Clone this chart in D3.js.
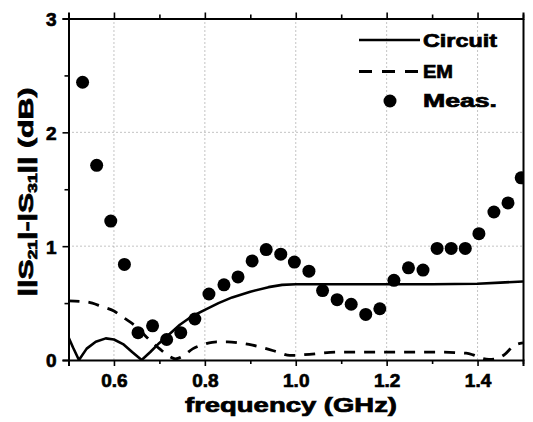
<!DOCTYPE html>
<html>
<head>
<meta charset="utf-8">
<script src="https://cdn.jsdelivr.net/npm/d3@7"></script>
<style>
  html, body { margin: 0; padding: 0; background: #fff; }
  svg text { font-family: "Liberation Sans", Arial, sans-serif; font-weight: bold; fill: #000; }
</style>
</head>
<body>
<svg id="chart" width="533" height="422"></svg>
<script>
// ---- data ----
const xTicks = [0.6, 0.8, 1.0, 1.2, 1.4];
const yTicks = [0, 1, 2, 3];
const seriesNames = ["Circuit", "EM", "Meas."];

const measFreq = [0.531, 0.562, 0.593, 0.623, 0.653, 0.685, 0.716, 0.747, 0.778, 0.809,
                  0.842, 0.873, 0.904, 0.935, 0.967, 0.997, 1.029, 1.059, 1.091, 1.122,
                  1.154, 1.185, 1.216, 1.248, 1.280, 1.311, 1.342, 1.373, 1.403, 1.436,
                  1.467, 1.496];
const measVal  = [2.44, 1.71, 1.22, 0.84, 0.24, 0.30, 0.18, 0.24, 0.36, 0.58,
                  0.66, 0.73, 0.87, 0.97, 0.93, 0.86, 0.78, 0.61, 0.53, 0.49,
                  0.40, 0.45, 0.70, 0.81, 0.79, 0.98, 0.98, 0.98, 1.11, 1.30,
                  1.38, 1.60];

const circuitFreq = [0.500, 0.510, 0.523, 0.540, 0.560, 0.582, 0.600, 0.620, 0.640, 0.661,
                     0.680, 0.700, 0.720, 0.745, 0.770, 0.800, 0.830, 0.860, 0.900, 0.940,
                     0.970, 1.000, 1.100, 1.200, 1.300, 1.400, 1.450, 1.500];
const circuitVal  = [0.20, 0.11, 0.00, 0.10, 0.16, 0.19, 0.18, 0.14, 0.07, 0.00,
                     0.07, 0.15, 0.22, 0.31, 0.38, 0.44, 0.50, 0.55, 0.60, 0.64,
                     0.66, 0.665, 0.665, 0.665, 0.665, 0.67, 0.68, 0.69];

const emFreq = [0.500, 0.540, 0.573, 0.600, 0.622, 0.650, 0.672, 0.700, 0.723, 0.735,
                0.750, 0.774, 0.800, 0.826, 0.850, 0.877, 0.905, 0.935, 0.960, 0.987,
                1.030, 1.090, 1.200, 1.300, 1.375, 1.390, 1.405, 1.425, 1.440, 1.460,
                1.478, 1.500];
const emVal    = [0.52, 0.51, 0.47, 0.43, 0.37, 0.29, 0.20, 0.10, 0.03, 0.01,
                  0.03, 0.10, 0.14, 0.16, 0.16, 0.15, 0.13, 0.10, 0.07, 0.04,
                  0.05, 0.07, 0.07, 0.07, 0.06, 0.045, 0.02, 0.005, 0.01, 0.05,
                  0.12, 0.15];

// ---- layout ----
const L = 68.5, R = 523, T = 18.5, B = 360;
const svg = d3.select("#chart");

const x = d3.scaleLinear().domain([0.5, 1.5]).range([L, R]);
const y = d3.scaleLinear().domain([0, 3]).range([B, T]);

// grid (dotted)
const grid = svg.append("g").attr("stroke", "#888").attr("stroke-width", 1)
  .attr("stroke-dasharray", "1,3");
grid.selectAll("line.gx").data(xTicks).join("line")
  .attr("x1", d => x(d)).attr("x2", d => x(d)).attr("y1", T).attr("y2", B);
grid.selectAll("line.gy").data([1, 2]).join("line")
  .attr("x1", L).attr("x2", R).attr("y1", d => y(d)).attr("y2", d => y(d));

// clip
svg.append("clipPath").attr("id", "clip").append("rect")
  .attr("x", L).attr("y", T).attr("width", R - L).attr("height", B - T);
const plot = svg.append("g").attr("clip-path", "url(#clip)");

const line = d3.line().x(d => x(d[0])).y(d => y(d[1]));

plot.append("path").datum(d3.zip(circuitFreq, circuitVal))
  .attr("d", line).attr("fill", "none").attr("stroke", "#000").attr("stroke-width", 2.6)
  .attr("stroke-linejoin", "round");

plot.append("path").datum(d3.zip(emFreq, emVal))
  .attr("d", d3.line().x(d => x(d[0])).y(d => y(d[1])).curve(d3.curveMonotoneX))
  .attr("fill", "none").attr("stroke", "#000").attr("stroke-width", 2.8)
  .attr("stroke-dasharray", "11,9");

plot.selectAll("circle.m").data(d3.zip(measFreq, measVal)).join("circle")
  .attr("cx", d => x(d[0])).attr("cy", d => y(d[1])).attr("r", 6.5).attr("fill", "#000");

// axes
const minorX = d3.range(0.5, 1.501, 0.1).map(v => +v.toFixed(2)).filter(v => !xTicks.includes(v));
const minorY = [0.5, 1.5, 2.5];

const axB = svg.append("g").attr("transform", `translate(0,${B})`)
  .call(d3.axisBottom(x).tickValues(xTicks).tickSize(6).tickFormat(d3.format(".1f")));
svg.append("g").attr("transform", `translate(0,${T})`)
  .call(d3.axisTop(x).tickValues(xTicks).tickSize(6).tickFormat(""));
const axL = svg.append("g").attr("transform", `translate(${L},0)`)
  .call(d3.axisLeft(y).tickValues(yTicks).tickSize(6).tickFormat(d3.format("d")));
svg.append("g").attr("transform", `translate(${R},0)`)
  .call(d3.axisRight(y).tickValues([]).tickSize(0).tickFormat(""));

svg.append("g").attr("transform", `translate(0,${B})`)
  .call(d3.axisBottom(x).tickValues(minorX).tickSize(4).tickFormat(""))
  .select(".domain").remove();
svg.append("g").attr("transform", `translate(0,${T})`)
  .call(d3.axisTop(x).tickValues(minorX).tickSize(4).tickFormat(""))
  .select(".domain").remove();
svg.append("g").attr("transform", `translate(${L},0)`)
  .call(d3.axisLeft(y).tickValues(minorY).tickSize(4).tickFormat(""))
  .select(".domain").remove();

svg.selectAll(".domain").attr("stroke", "#000").attr("stroke-width", 2);
svg.selectAll(".tick line").attr("stroke", "#000").attr("stroke-width", 1.6);

axB.selectAll(".tick text").attr("font-size", 19).attr("dy", 0).attr("y", 27)
  .style("font-family", "'Liberation Sans', Arial, sans-serif").style("font-weight", "bold")
  .attr("stroke", "#000").attr("stroke-width", 0.7);
axL.selectAll(".tick text").attr("font-size", 19).attr("x", -12).attr("dy", "0.36em")
  .style("font-family", "'Liberation Sans', Arial, sans-serif").style("font-weight", "bold")
  .attr("stroke", "#000").attr("stroke-width", 0.7);

// axis titles
svg.append("text").attr("x", 291).attr("y", 412).attr("text-anchor", "middle")
  .attr("font-size", 20).attr("stroke", "#000").attr("stroke-width", 0.7)
  .attr("textLength", 212).attr("lengthAdjust", "spacingAndGlyphs")
  .text("frequency (GHz)");

const yl = svg.append("text").attr("transform", "translate(33,192) rotate(-90)")
  .attr("text-anchor", "middle").attr("font-size", 21)
  .attr("stroke", "#000").attr("stroke-width", 0.7)
  .attr("textLength", 209).attr("lengthAdjust", "spacingAndGlyphs");
yl.append("tspan").text("||S");
yl.append("tspan").attr("font-size", 12).attr("dy", 4).text("21");
yl.append("tspan").attr("dy", -4).text("|-|S");
yl.append("tspan").attr("font-size", 12).attr("dy", 4).text("31");
yl.append("tspan").attr("dy", -4).text("|| (dB)");

// legend
const lg = svg.append("g");
const rows = [47, 78, 107];
const centers = [40, 71.5, 101];
lg.append("line").attr("x1", 359).attr("x2", 420).attr("y1", centers[0]).attr("y2", centers[0])
  .attr("stroke", "#000").attr("stroke-width", 2.6);
lg.append("line").attr("x1", 359).attr("x2", 420).attr("y1", centers[1]).attr("y2", centers[1])
  .attr("stroke", "#000").attr("stroke-width", 2.8).attr("stroke-dasharray", "13,10");
lg.append("circle").attr("cx", 390).attr("cy", centers[2]).attr("r", 6.5).attr("fill", "#000");
const widths = [74, 30, 74];
lg.selectAll("text.lg").data(seriesNames).join("text")
  .attr("x", 423).attr("y", (d, i) => rows[i]).attr("font-size", 18)
  .attr("stroke", "#000").attr("stroke-width", 0.7)
  .attr("textLength", (d, i) => widths[i]).attr("lengthAdjust", "spacingAndGlyphs")
  .text(d => d);
</script>
</body>
</html>
